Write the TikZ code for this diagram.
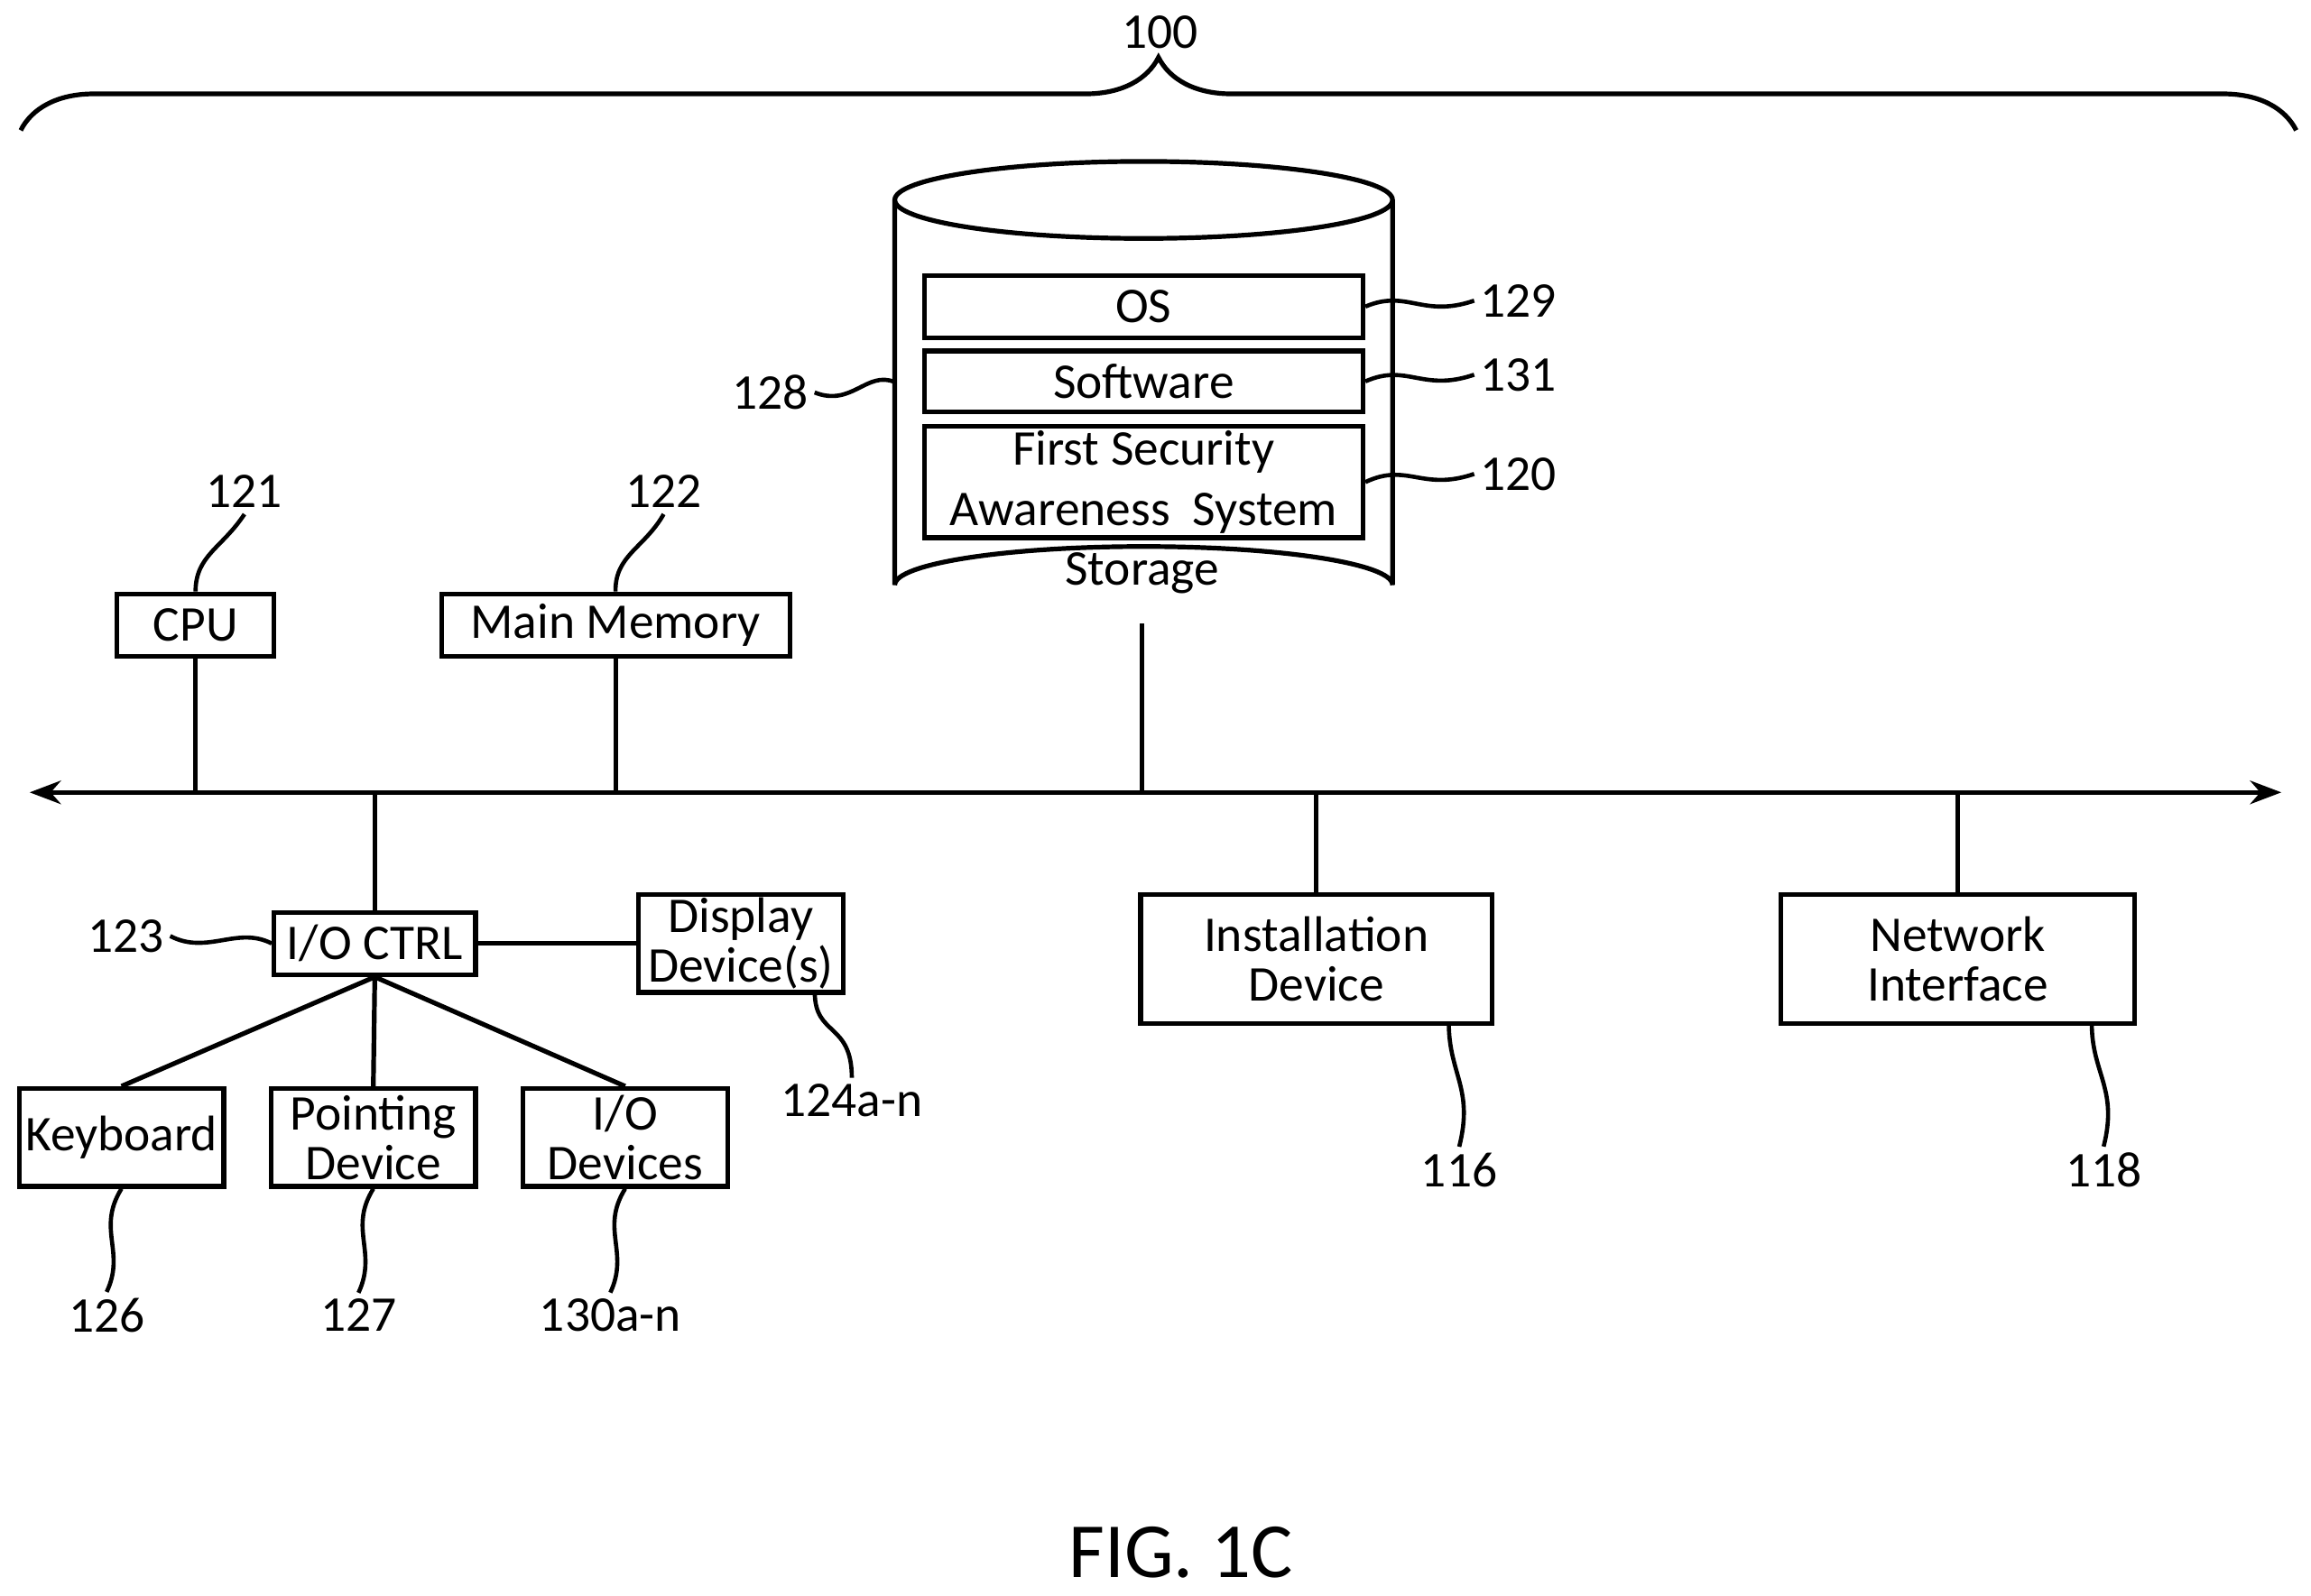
\documentclass[tikz,border=0pt]{standalone}
\usepackage{fontspec}
\setmainfont{Carlito}
\usetikzlibrary{positioning,shapes.geometric,arrows.meta,decorations.pathreplacing}

\tikzset{
  box/.style={draw, line width=0.9pt, inner sep=0pt, align=center, font=\fontsize{9.6}{9.5}\selectfont},
  num/.style={font=\fontsize{9.6}{11}\selectfont, inner sep=1pt},
  lead/.style={line width=0.8pt},
  wire/.style={line width=0.9pt}
}
\newcommand{\boxat}[6]{% name, x1, y1, x2, y2, text
  \node[box, minimum width={(#4-#2)*0.1mm}, minimum height={(#5-#3)*0.1mm}] (#1) at ({(#2+#4)/2},{(#3+#5)/2}) {#6};}

\begin{document}
\begin{tikzpicture}[x=0.01cm, y=-0.01cm]
  \useasboundingbox (0,0) rectangle (1560,1077);

  % top brace
  \draw[line width=0.9pt, decorate, decoration={brace, amplitude=14pt}] (14,88) -- (1550,88);
  \node[num] (n100) at (783,22) {100};

  % storage cylinder
  \draw[line width=0.9pt] (604,135) -- (604,395) arc[start angle=180, end angle=360, x radius=168, y radius=26] -- (940,135);
  \draw[line width=0.9pt] (772,135) ellipse[x radius=168, y radius=26];
  \coordinate (stL) at (604,258);
  \coordinate (stB) at (771,421);
  \boxat{os}{624}{186}{920}{228}{OS}
  \boxat{sw}{624}{237}{920}{278}{Software}
  \boxat{fsas}{624}{288}{920}{363}{First Security\\[2pt]Awareness\ \ System}
  \node[font=\fontsize{9.6}{11}\selectfont] (stlabel) at (771,387) {Storage};

  \node[num] (n129) at (1025,203) {129};
  \node[num] (n131) at (1025,253) {131};
  \node[num] (n120) at (1025,320) {120};
  \node[num] (n128) at (520,265) {128};
  \draw[lead] (os.east) .. controls (950,195) and (960,215) .. (n129.west);
  \draw[lead] (sw.east) .. controls (950,245) and (960,265) .. (n131.west);
  \draw[lead] (fsas.east) .. controls (950,312) and (960,332) .. (n120.west);
  \draw[lead] (stL) .. controls (585,250) and (575,275) .. (n128.east);

  % upper devices
  \boxat{cpu}{79}{401}{185}{443}{CPU}
  \boxat{mem}{298}{401}{533}{443}{Main Memory}
  \node[num] (n121) at (165,332) {121};
  \node[num] (n122) at (448,332) {122};
  \draw[lead] (cpu.north) .. controls (132,375) and (150,370) .. (n121.south);
  \draw[lead] (mem.north) .. controls (415,375) and (435,370) .. (n122.south);

  % bus
  \coordinate (busL) at (20,535);
  \coordinate (busR) at (1540,535);
  \draw[wire, {Stealth[length=6pt]}-{Stealth[length=6pt]}] (busL) -- (busR);
  \draw[wire] (cpu.south) -- (cpu.south |- busL);
  \draw[wire] (mem.south) -- (mem.south |- busL);
  \draw[wire] (stB) -- (stB |- busL);

  % lower devices
  \boxat{ioc}{185}{616}{321}{658}{I/O CTRL}
  \boxat{disp}{431}{604}{569}{670}{Display\\Device(s)}
  \boxat{inst}{770}{604}{1007}{691}{Installation\\Device}
  \boxat{net}{1202}{604}{1441}{691}{Network\\Interface}
  \boxat{kbd}{13}{735}{151}{801}{Keyboard}
  \boxat{pnt}{183}{735}{321}{801}{Pointing\\Device}
  \boxat{iod}{353}{735}{491}{801}{I/O\\Devices}
  \draw[wire] (ioc.north) -- (ioc.north |- busL);
  \draw[wire] (inst.north) -- (inst.north |- busL);
  \draw[wire] (net.north) -- (net.north |- busL);
  \draw[wire] (ioc.east) -- (ioc.east -| disp.west);
  \foreach \dev in {kbd, pnt, iod}{
    \draw[wire] (ioc.south) -- (\dev.north);
  }

  \coordinate (dispB) at (550,670);
  \coordinate (instB) at (978,691);
  \coordinate (netB) at (1412,691);
  \node[num] (n123) at (85,632) {123};
  \node[num] (n124) at (575,743) {124a-n};
  \node[num] (n116) at (985,790) {116};
  \node[num] (n118) at (1420,790) {118};
  \node[num] (n126) at (72,888) {126};
  \node[num] (n127) at (242,888) {127};
  \node[num] (n130) at (412,888) {130a-n};
  \draw[lead] (n123.east) .. controls (140,645) and (160,625) .. (ioc.west);
  \draw[lead] (dispB) .. controls (550,700) and (575,690) .. (n124.north);
  \draw[lead] (instB) .. controls (978,725) and (995,735) .. (n116.north);
  \draw[lead] (netB) .. controls (1412,725) and (1430,735) .. (n118.north);
  \draw[lead] (kbd.south) .. controls (65,830) and (85,845) .. (n126.north);
  \draw[lead] (pnt.south) .. controls (235,830) and (255,845) .. (n127.north);
  \draw[lead] (iod.south) .. controls (405,830) and (425,845) .. (n130.north);

  \node[font=\fontsize{15}{18}\selectfont] (fig) at (797,1048) {FIG. 1C};
\end{tikzpicture}
\end{document}
